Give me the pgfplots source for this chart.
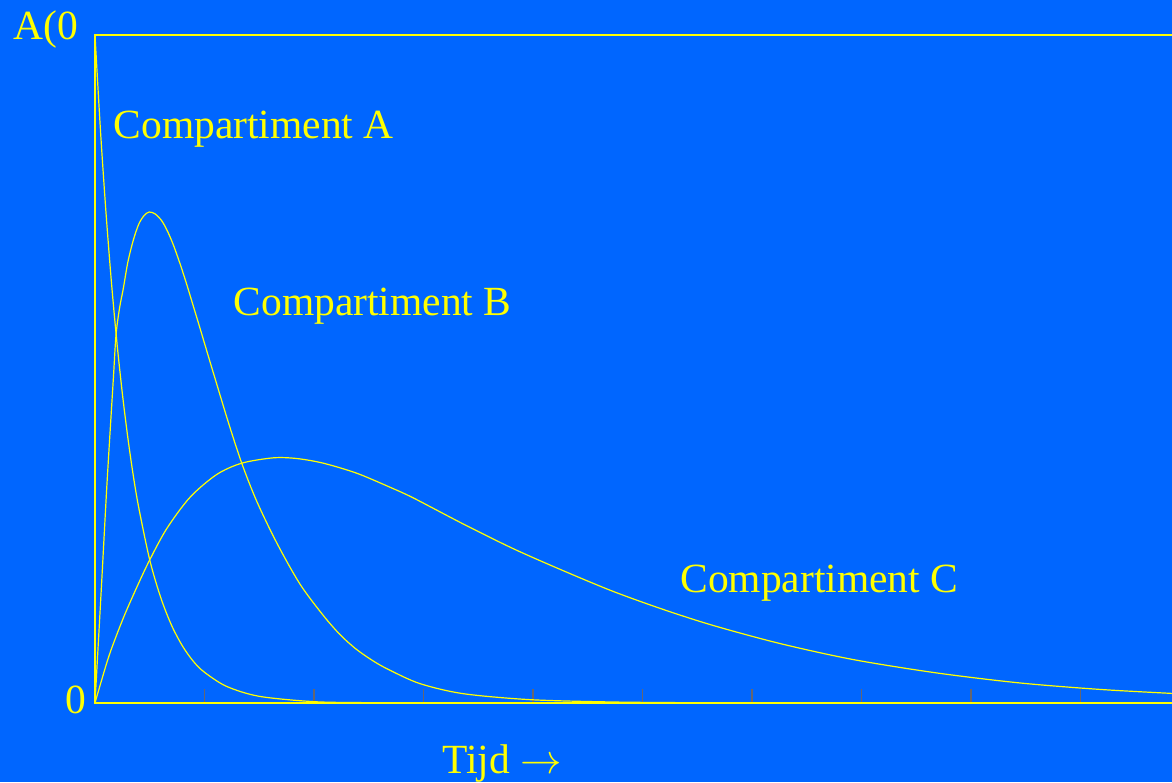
\documentclass[border=0pt]{standalone}
\usepackage{pgfplots}
\pgfplotsset{compat=1.18}
\usepackage{fontspec}
\setmainfont{Liberation Serif}
\definecolor{slidebg}{HTML}{0066FF}
\definecolor{slideyellow}{HTML}{FFFF00}
\definecolor{tickgrey}{HTML}{666670}

% amount left in each compartment, as a fraction of A(0)
\pgfplotstableread{
t     v
0     1
0.05  0.857
0.10  0.735
0.15  0.630
0.20  0.540
0.25  0.463
0.30  0.397
0.35  0.340
0.40  0.292
0.50  0.214
0.60  0.158
0.70  0.116
0.80  0.085
0.90  0.062
1.00  0.046
1.20  0.025
1.50  0.010
2.00  0.002
2.50  0.0005
3.00  0.0001
4.00  0
10    0
}\compA

\pgfplotstableread{
t     v
0     0
0.06  0.178
0.11  0.330
0.167 0.484
0.192 0.551
0.225 0.592
0.258 0.620
0.30  0.660
0.35  0.693
0.40  0.717
0.45  0.730
0.496 0.735
0.55  0.732
0.609 0.722
0.66  0.707
0.715 0.686
0.78  0.656
0.837 0.627
0.90  0.593
0.959 0.561
1.03  0.522
1.096 0.486
1.22  0.419
1.34  0.359
1.477 0.302
1.659 0.240
1.872 0.178
2.085 0.131
2.24  0.102
2.39  0.080
2.55  0.062
2.694 0.049
2.968 0.029
3.361 0.014
3.973 0.005
4.73  0.0015
5.53  0.0004
6.5   0
10    0
}\compB

\pgfplotstableread{
t     v
0     0
0.06  0.034
0.137 0.075
0.258 0.127
0.381 0.173
0.496 0.213
0.655 0.261
0.868 0.308
1.111 0.342
1.34  0.359
1.628 0.367
1.842 0.366
2.085 0.359
2.39  0.344
2.694 0.323
2.907 0.307
3.363 0.268
3.82  0.231
4.277 0.198
4.733 0.167
5.19  0.140
5.647 0.116
6.256 0.089
6.925 0.065
7.687 0.045
8.447 0.030
9.208 0.020
10    0.013
}\compC

\begin{document}
\begin{tikzpicture}[x=1pt,y=1pt]
\fill[slidebg] (-47.5,-39.5) rectangle (538.5,351.5);
\useasboundingbox (-47.5,-39.5) rectangle (538.5,351.5);
\begin{axis}[
  at={(0,0)}, anchor=south west,
  scale only axis, width=547.5pt, height=334pt,
  xmin=0, xmax=10, ymin=0, ymax=1,
  axis line style={slideyellow, line width=0.9pt},
  xtick={1,...,9}, xticklabels={}, ytick=\empty,
  tick align=inside, xtick pos=lower,
  major tick length=7pt,
  every tick/.style={tickgrey, line width=0.8pt},
  curve/.style={slideyellow, line width=0.6pt, mark=none, smooth, tension=0.5},
]
\addplot[curve] table[x=t, y=v] {\compA};
\addplot[curve] table[x=t, y=v] {\compB};
\addplot[curve] table[x=t, y=v] {\compC};
\end{axis}
\begin{scope}[every node/.style={inner sep=0pt, anchor=base west, text=slideyellow,
  font=\fontsize{20.75}{25}\selectfont}]
\node at (-41,331.5) {A(0};
\node at (-15,-5) {0};
\node at (9.15,282) {Compartiment A};
\node at (69.15,193.5) {Compartiment B};
\node at (292.5,55.5) {Compartiment C};
\node at (173.35,-35) {Tijd $\rightarrow$};
\end{scope}
\end{tikzpicture}
\end{document}
